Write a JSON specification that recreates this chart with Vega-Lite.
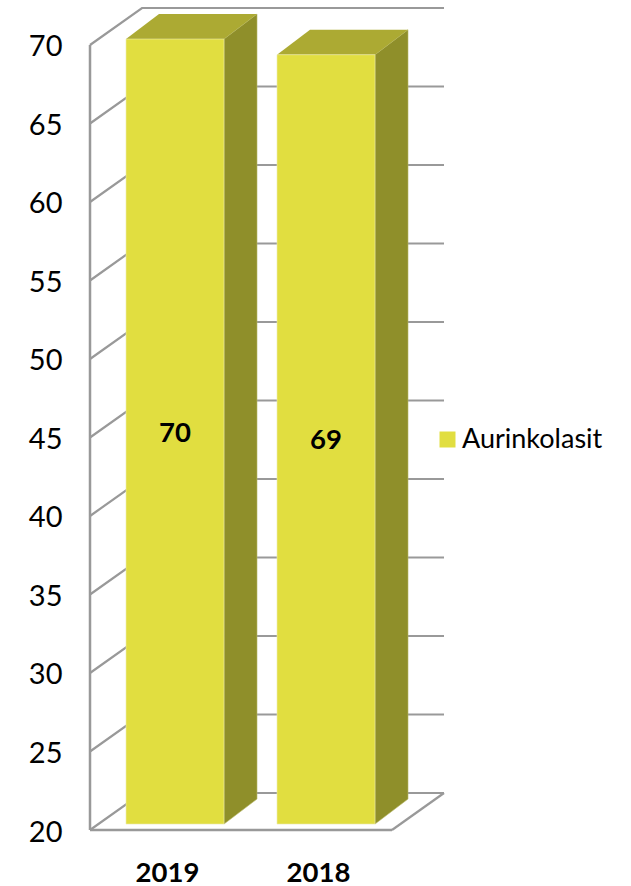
{
"$schema":"https://vega.github.io/schema/vega-lite/v6.json",
"autosize":"none",
"padding":{"left":90,"top":0,"right":88,"bottom":56},
"width":453,"height":830,
"background":"white",
"config":{"view":{"stroke":null},"font":"Lato"},
"datasets":{
 "bars":[{"year":"2019","slot":1,"value":70,"series":"Aurinkolasit"},{"year":"2018","slot":2,"value":69,"series":"Aurinkolasit"}],
 "ticks":[{"tick":20},{"tick":25},{"tick":30},{"tick":35},{"tick":40},{"tick":45},{"tick":50},{"tick":55},{"tick":60},{"tick":65},{"tick":70}],
 "one":[{"anchor":1}]
},
"layer":[
{"data":{"name":"ticks"},
 "transform":[{"calculate":"[0,1,2]","as":"d"},{"flatten":["d"]},
  {"calculate":"datum.d==0?0.437:datum.d==1?0.7814:2.7814","as":"gx"},
  {"calculate":"datum.d==0?datum.tick:datum.tick+2.357","as":"gy"}],
 "mark":{"type":"line","color":"#999999","strokeWidth":2.2},
 "encoding":{
  "x":{"field":"gx","type":"quantitative","scale":{"domain":[0.437,3.437],"nice":false,"zero":false},"axis":{"values":[1,2],"labelExpr":"datum.value==1?'2019':'2018'","title":null,"domain":false,"ticks":false,"grid":false,"labelPadding":29,"labelOffset":-8,"labelFontSize":27.5,"labelFontWeight":"bold","labelColor":"#000000","labelFont":"Lato"}},
  "y":{"field":"gy","type":"quantitative","scale":{"domain":[20,72.866],"nice":false,"zero":false},"axis":{"values":[20,25,30,35,40,45,50,55,60,65,70],"title":null,"domain":false,"ticks":false,"grid":false,"labelPadding":28,"labelOffset":2,"labelFontSize":29,"labelColor":"#000000","labelFont":"Lato"}},
  "detail":{"field":"tick"}}},
{"data":{"name":"one"},"mark":{"type":"rule","color":"#999999","strokeWidth":2.5},
 "encoding":{"x":{"datum":0.437,"type":"quantitative","scale":{"domain":[0.437,3.437],"nice":false,"zero":false}},"y":{"datum":20,"type":"quantitative","scale":{"domain":[20,72.866],"nice":false,"zero":false}},"y2":{"datum":70}}},
{"data":{"name":"one"},"mark":{"type":"rule","color":"#999999","strokeWidth":2.5},
 "encoding":{"x":{"datum":0.437,"type":"quantitative","scale":{"domain":[0.437,3.437],"nice":false,"zero":false}},"x2":{"datum":2.437},"y":{"datum":20,"type":"quantitative","scale":{"domain":[20,72.866],"nice":false,"zero":false}}}},
{"data":{"name":"one"},"mark":{"type":"rule","color":"#999999","strokeWidth":2.2},
 "encoding":{"x":{"datum":2.437,"type":"quantitative","scale":{"domain":[0.437,3.437],"nice":false,"zero":false}},"x2":{"datum":2.7814},"y":{"datum":20,"type":"quantitative","scale":{"domain":[20,72.866],"nice":false,"zero":false}},"y2":{"datum":22.357}}},
{"data":{"name":"bars"},
 "transform":[{"calculate":"[0,1]","as":"d"},{"flatten":["d"]},
  {"calculate":"datum.slot+(49+33*datum.d)/151","as":"sx"},
  {"calculate":"datum.value+0.38+25*datum.d/15.7","as":"st"},
  {"calculate":"20+0.38+25*datum.d/15.7","as":"sb"}],
 "mark":{"type":"area","color":"#8f8f2a","orient":"vertical","stroke":"#b9b96a","strokeWidth":0.6},
 "encoding":{"x":{"field":"sx","type":"quantitative","scale":{"domain":[0.437,3.437],"nice":false,"zero":false}},"y":{"field":"st","type":"quantitative","stack":null,"scale":{"domain":[20,72.866],"nice":false,"zero":false}},"y2":{"field":"sb"},"detail":{"field":"slot"}}},
{"data":{"name":"bars"},
 "transform":[{"calculate":"[0,1]","as":"d"},{"flatten":["d"]},
  {"calculate":"datum.slot-49/151+33*datum.d/151","as":"tl"},
  {"calculate":"datum.slot+49/151+33*datum.d/151","as":"tr"},
  {"calculate":"datum.value+0.38+25*datum.d/15.7","as":"ty"}],
 "mark":{"type":"area","color":"#acaa33","orient":"horizontal"},
 "encoding":{"y":{"field":"ty","type":"quantitative","scale":{"domain":[20,72.866],"nice":false,"zero":false}},"x":{"field":"tl","type":"quantitative","stack":null,"scale":{"domain":[0.437,3.437],"nice":false,"zero":false}},"x2":{"field":"tr"},"detail":{"field":"slot"}}},
{"data":{"name":"bars"},
 "transform":[
  {"calculate":"datum.slot-49/151","as":"fl"},
  {"calculate":"datum.slot+49/151","as":"fr"},
  {"calculate":"datum.value+0.38","as":"ft"},
  {"calculate":"20.38","as":"fb"}],
 "mark":{"type":"rect","stroke":"#ecebb0","strokeWidth":0.6},
 "encoding":{"x":{"field":"fl","type":"quantitative","scale":{"domain":[0.437,3.437],"nice":false,"zero":false}},"x2":{"field":"fr"},"y":{"field":"ft","type":"quantitative","scale":{"domain":[20,72.866],"nice":false,"zero":false}},"y2":{"field":"fb"},
  "color":{"field":"series","type":"nominal","scale":{"range":["#e1de40"]},
   "legend":{"title":null,"orient":"none","legendX":344,"legendY":426,"symbolType":"square","symbolSize":256,"symbolStrokeWidth":0,"labelFontSize":27,"labelColor":"#000000","labelFont":"Lato","labelOffset":1,"symbolOffset":0,"padding":0}}}},
{"data":{"name":"bars"},
 "transform":[{"calculate":"(datum.value+20)/2+0.25","as":"mid"}],
 "mark":{"type":"text","fontSize":27.5,"fontWeight":"bold","color":"#000000","font":"Lato"},
 "encoding":{"x":{"field":"slot","type":"quantitative","scale":{"domain":[0.437,3.437],"nice":false,"zero":false}},"y":{"field":"mid","type":"quantitative","scale":{"domain":[20,72.866],"nice":false,"zero":false}},"text":{"field":"value","type":"quantitative"}}}
]
}
